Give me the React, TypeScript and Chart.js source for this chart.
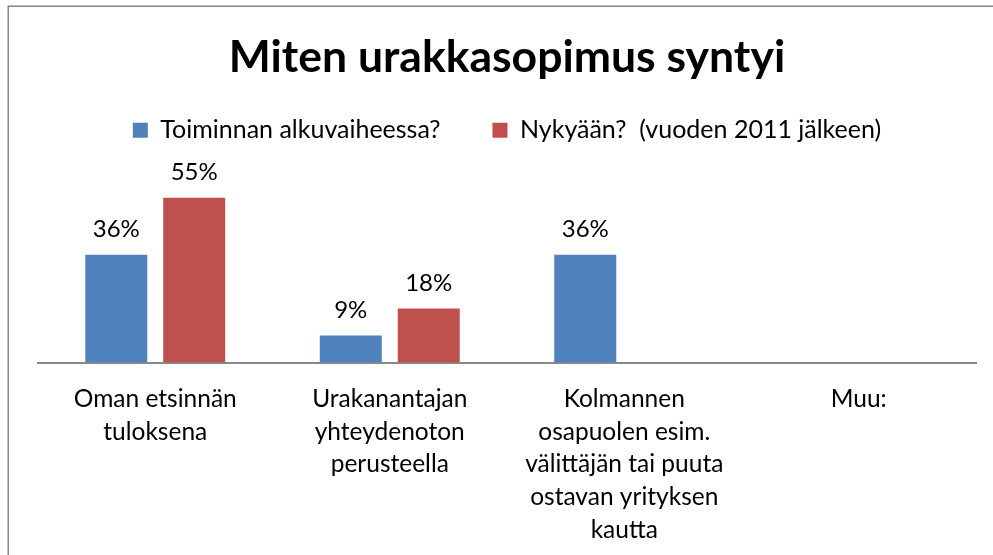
import React, { useEffect, useRef } from "react";
import { Chart, registerables } from "chart.js";

Chart.register(...registerables);

const titleText = "Miten urakkasopimus syntyi";
const categories: string[][] = [
  ["Oman etsinnän", "tuloksena"],
  ["Urakanantajan", "yhteydenoton", "perusteella"],
  ["Kolmannen", "osapuolen esim.", "välittäjän tai puuta", "ostavan yrityksen", "kautta"],
  ["Muu:"],
];
const seriesNames = ["Toiminnan alkuvaiheessa?", "Nykyään?  (vuoden 2011 jälkeen)"];
const alkuvaiheessa: (number | null)[] = [36, 9, 36, null];
const nykyaan: (number | null)[] = [55, 18, null, null];
const seriesColors = ["#4F81BD", "#C0504D"];

const FONT = "Lato, 'Open Sans', sans-serif";

const frame = {
  id: "frame",
  beforeDraw(chart: any) {
    const { ctx, width, height } = chart;
    ctx.save();
    ctx.fillStyle = "#ffffff";
    ctx.fillRect(0, 0, width, height);
    ctx.strokeStyle = "#868686";
    ctx.lineWidth = 1.5;
    ctx.beginPath();
    ctx.moveTo(8.25, height);
    ctx.lineTo(8.25, 6.25);
    ctx.lineTo(width, 6.25);
    ctx.stroke();
    ctx.restore();
  },
};

const valueLabels = {
  id: "valueLabels",
  afterDatasetsDraw(chart: any) {
    const { ctx } = chart;
    ctx.save();
    ctx.font = `24px ${FONT}`;
    ctx.fillStyle = "#000000";
    ctx.textAlign = "center";
    ctx.textBaseline = "middle";
    chart.data.datasets.forEach((ds: any, di: number) => {
      const meta = chart.getDatasetMeta(di);
      meta.data.forEach((el: any, i: number) => {
        const v = ds.data[i];
        if (v === null || v === undefined) return;
        ctx.fillText(`${v}%`, el.x, el.y - 25);
      });
    });
    ctx.restore();
  },
};

export default function App() {
  const ref = useRef<HTMLCanvasElement | null>(null);
  useEffect(() => {
    if (!ref.current) return;
    const chart = new Chart(ref.current, {
      type: "bar",
      data: {
        labels: categories,
        datasets: [
          {
            label: seriesNames[0],
            data: alkuvaiheessa,
            backgroundColor: seriesColors[0],
            categoryPercentage: 0.665,
            barPercentage: 0.795,
          },
          {
            label: seriesNames[1],
            data: nykyaan,
            backgroundColor: seriesColors[1],
            categoryPercentage: 0.665,
            barPercentage: 0.795,
          },
        ],
      },
      options: {
        responsive: false,
        animation: false,
        devicePixelRatio: 1,
        layout: { padding: { left: 38, right: 17, top: 0, bottom: 10 } },
        plugins: {
          title: {
            display: true,
            text: titleText,
            color: "#000000",
            font: { family: FONT, size: 44.5, weight: "bold", lineHeight: 1.2 },
            padding: { top: 30.6, bottom: -18.2 },
          },
          legend: {
            display: true,
            position: "top",
            labels: {
              color: "#000000",
              font: { family: FONT, size: 25 },
              boxWidth: 15,
              boxHeight: 15,
              padding: 52,
            },
          },
          tooltip: { enabled: false },
        },
        scales: {
          x: {
            grid: { display: false, drawTicks: false },
            border: { display: true, color: "#898989", width: 2 },
            ticks: {
              color: "#000000",
              font: { family: FONT, size: 24.5, lineHeight: 1.337 },
              padding: 20,
              maxRotation: 0,
              minRotation: 0,
              autoSkip: false,
            },
            afterFit: (scale: any) => {
              scale.height = 182.5;
            },
          },
          y: {
            display: false,
            min: 0,
            max: 70,
          },
        },
      },
      plugins: [frame, valueLabels],
    });
    return () => chart.destroy();
  }, []);
  return (
    <canvas
      ref={ref}
      width={993}
      height={555}
      style={{ position: "fixed", left: 0, top: 0, width: 993, height: 555 }}
    />
  );
}
